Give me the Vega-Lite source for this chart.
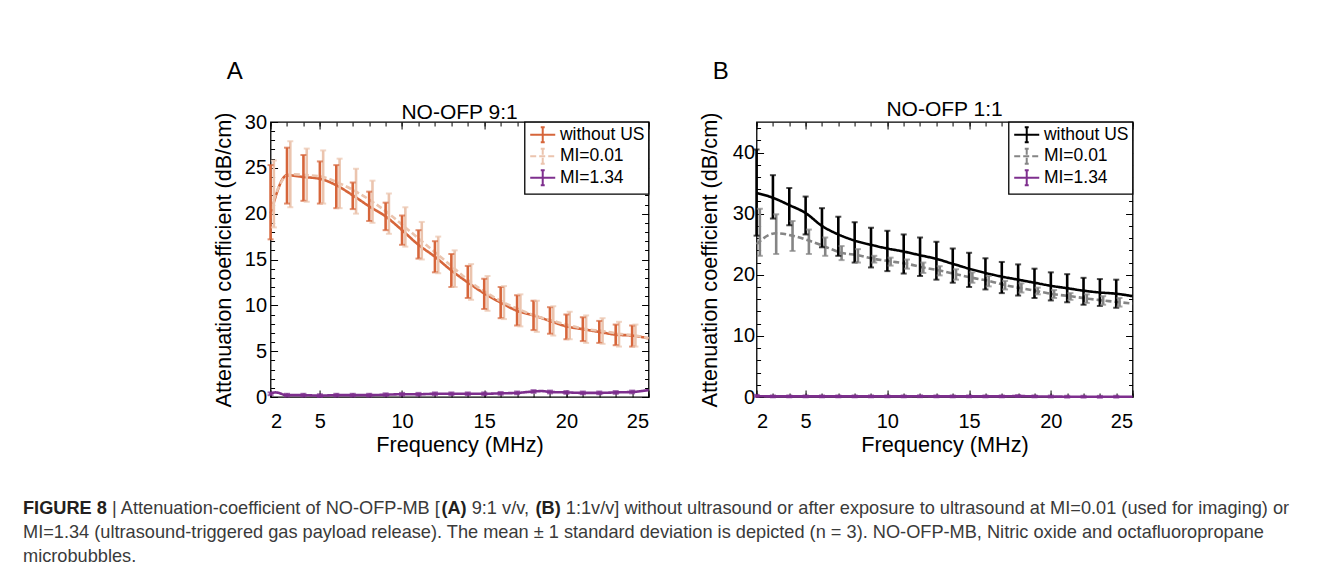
{
  "$schema": "https://vega.github.io/schema/vega-lite/v6.json",
  "background": "white",
  "padding": {"left": 23, "top": 60, "right": 0, "bottom": 0},
  "config": {
    "font": "Liberation Sans",
    "view": {"stroke": "black", "strokeWidth": 1.3},
    "axis": {"grid": false, "domain": false, "tickColor": "black", "tickWidth": 1, "labelColor": "black", "titleColor": "black", "labelFont": "Liberation Sans", "titleFont": "Liberation Sans", "titleFontWeight": "normal", "labelFontSize": 20, "titleFontSize": 21.7},
    "title": {"font": "Liberation Sans", "fontWeight": "normal", "color": "black"},
    "legend": {"orient": "top-right", "offset": 0, "strokeColor": "black", "strokeWidth": 1.3, "fillColor": "white", "padding": 4, "labelFont": "Liberation Sans", "labelFontSize": 17.5, "labelColor": "black", "symbolType": "M-1.77,0H1.77M0,-1.06V1.06M-0.28,-1.06H0.28M-0.28,1.06H0.28", "symbolSize": 200, "symbolStrokeWidth": 2, "symbolFillColor": "transparent", "symbolOffset": 5.4, "rowPadding": -2.5, "labelOffset": 8.4}
  },
  "resolve": {"scale": {"color": "independent", "strokeDash": "independent"}, "legend": {"color": "independent", "strokeDash": "independent"}},
  "datasets": {
    "a": [
      {"s": "without US", "f": 2, "m": 20.0, "lo": 17.2, "hi": 25.3},
      {"s": "without US", "f": 3, "m": 24.2, "lo": 21.1, "hi": 27.2},
      {"s": "without US", "f": 4, "m": 24.0, "lo": 21.4, "hi": 26.4},
      {"s": "without US", "f": 5, "m": 23.8, "lo": 21.1, "hi": 25.7},
      {"s": "without US", "f": 6, "m": 23.1, "lo": 20.6, "hi": 25.3},
      {"s": "without US", "f": 7, "m": 22.0, "lo": 20.5, "hi": 23.4},
      {"s": "without US", "f": 8, "m": 20.8, "lo": 19.2, "hi": 22.4},
      {"s": "without US", "f": 9, "m": 19.7, "lo": 18.2, "hi": 21.2},
      {"s": "without US", "f": 10, "m": 18.2, "lo": 16.6, "hi": 19.8},
      {"s": "without US", "f": 11, "m": 16.6, "lo": 15.1, "hi": 18.2},
      {"s": "without US", "f": 12, "m": 15.3, "lo": 13.6, "hi": 17.0},
      {"s": "without US", "f": 13, "m": 13.8, "lo": 12.0, "hi": 15.6},
      {"s": "without US", "f": 14, "m": 12.5, "lo": 10.8, "hi": 14.3},
      {"s": "without US", "f": 15, "m": 11.3, "lo": 9.6, "hi": 12.9},
      {"s": "without US", "f": 16, "m": 10.3, "lo": 8.6, "hi": 12.0},
      {"s": "without US", "f": 17, "m": 9.4, "lo": 7.8, "hi": 11.1},
      {"s": "without US", "f": 18, "m": 8.9, "lo": 7.3, "hi": 10.5},
      {"s": "without US", "f": 19, "m": 8.3, "lo": 6.9, "hi": 9.8},
      {"s": "without US", "f": 20, "m": 7.7, "lo": 6.3, "hi": 9.0},
      {"s": "without US", "f": 21, "m": 7.4, "lo": 6.1, "hi": 8.7},
      {"s": "without US", "f": 22, "m": 7.1, "lo": 5.9, "hi": 8.3},
      {"s": "without US", "f": 23, "m": 6.8, "lo": 5.65, "hi": 7.9},
      {"s": "without US", "f": 24, "m": 6.7, "lo": 5.5, "hi": 7.8},
      {"s": "without US", "f": 25, "m": 6.4, "lo": null, "hi": null},
      {"s": "MI=0.01", "f": 2, "m": 19.5, "lo": null, "hi": null},
      {"s": "MI=0.01", "f": 2.2, "m": 21.5, "lo": 18.5, "hi": 25.8},
      {"s": "MI=0.01", "f": 3.2, "m": 24.3, "lo": 20.7, "hi": 27.9},
      {"s": "MI=0.01", "f": 4.2, "m": 24.2, "lo": 21.3, "hi": 27.1},
      {"s": "MI=0.01", "f": 5.2, "m": 24.0, "lo": 21.1, "hi": 26.9},
      {"s": "MI=0.01", "f": 6.2, "m": 23.3, "lo": 20.6, "hi": 26.0},
      {"s": "MI=0.01", "f": 7.2, "m": 22.4, "lo": 20.0, "hi": 24.9},
      {"s": "MI=0.01", "f": 8.2, "m": 21.3, "lo": 19.0, "hi": 23.6},
      {"s": "MI=0.01", "f": 9.2, "m": 20.0, "lo": 17.8, "hi": 22.2},
      {"s": "MI=0.01", "f": 10.2, "m": 18.5, "lo": 16.4, "hi": 20.7},
      {"s": "MI=0.01", "f": 11.2, "m": 17.0, "lo": 15.0, "hi": 19.1},
      {"s": "MI=0.01", "f": 12.2, "m": 15.5, "lo": 13.5, "hi": 17.5},
      {"s": "MI=0.01", "f": 13.2, "m": 14.0, "lo": 12.0, "hi": 16.0},
      {"s": "MI=0.01", "f": 14.2, "m": 12.5, "lo": 10.6, "hi": 14.5},
      {"s": "MI=0.01", "f": 15.2, "m": 11.3, "lo": 9.4, "hi": 13.2},
      {"s": "MI=0.01", "f": 16.2, "m": 10.3, "lo": 8.5, "hi": 12.1},
      {"s": "MI=0.01", "f": 17.2, "m": 9.5, "lo": 7.7, "hi": 11.2},
      {"s": "MI=0.01", "f": 18.2, "m": 8.8, "lo": 7.1, "hi": 10.5},
      {"s": "MI=0.01", "f": 19.2, "m": 8.3, "lo": 6.7, "hi": 9.9},
      {"s": "MI=0.01", "f": 20.2, "m": 7.8, "lo": 6.3, "hi": 9.3},
      {"s": "MI=0.01", "f": 21.2, "m": 7.4, "lo": 5.9, "hi": 8.9},
      {"s": "MI=0.01", "f": 22.2, "m": 7.2, "lo": 5.8, "hi": 8.6},
      {"s": "MI=0.01", "f": 23.2, "m": 6.9, "lo": 5.5, "hi": 8.2},
      {"s": "MI=0.01", "f": 24.2, "m": 6.7, "lo": 5.5, "hi": 7.9},
      {"s": "MI=0.01", "f": 25, "m": 6.4, "lo": null, "hi": null},
      {"s": "MI=1.34", "f": 2, "m": 0.35, "lo": 0.2, "hi": 0.5},
      {"s": "MI=1.34", "f": 2.3, "m": 0.5, "lo": null, "hi": null},
      {"s": "MI=1.34", "f": 3, "m": 0.2, "lo": 0.05, "hi": 0.35},
      {"s": "MI=1.34", "f": 4, "m": 0.2, "lo": 0.05, "hi": 0.35},
      {"s": "MI=1.34", "f": 5, "m": 0.15, "lo": 0.0, "hi": 0.3},
      {"s": "MI=1.34", "f": 6, "m": 0.2, "lo": 0.05, "hi": 0.35},
      {"s": "MI=1.34", "f": 7, "m": 0.2, "lo": 0.05, "hi": 0.35},
      {"s": "MI=1.34", "f": 8, "m": 0.2, "lo": 0.05, "hi": 0.35},
      {"s": "MI=1.34", "f": 9, "m": 0.25, "lo": 0.1, "hi": 0.4},
      {"s": "MI=1.34", "f": 10, "m": 0.3, "lo": 0.15, "hi": 0.45},
      {"s": "MI=1.34", "f": 11, "m": 0.3, "lo": 0.15, "hi": 0.45},
      {"s": "MI=1.34", "f": 12, "m": 0.35, "lo": 0.2, "hi": 0.5},
      {"s": "MI=1.34", "f": 13, "m": 0.35, "lo": 0.2, "hi": 0.5},
      {"s": "MI=1.34", "f": 14, "m": 0.35, "lo": 0.2, "hi": 0.5},
      {"s": "MI=1.34", "f": 15, "m": 0.35, "lo": 0.2, "hi": 0.5},
      {"s": "MI=1.34", "f": 16, "m": 0.4, "lo": 0.25, "hi": 0.55},
      {"s": "MI=1.34", "f": 17, "m": 0.45, "lo": 0.3, "hi": 0.6},
      {"s": "MI=1.34", "f": 18, "m": 0.6, "lo": 0.45, "hi": 0.75},
      {"s": "MI=1.34", "f": 18.5, "m": 0.65, "lo": null, "hi": null},
      {"s": "MI=1.34", "f": 19, "m": 0.55, "lo": 0.4, "hi": 0.7},
      {"s": "MI=1.34", "f": 20, "m": 0.5, "lo": 0.35, "hi": 0.65},
      {"s": "MI=1.34", "f": 21, "m": 0.45, "lo": 0.3, "hi": 0.6},
      {"s": "MI=1.34", "f": 22, "m": 0.45, "lo": 0.3, "hi": 0.6},
      {"s": "MI=1.34", "f": 23, "m": 0.5, "lo": 0.35, "hi": 0.65},
      {"s": "MI=1.34", "f": 24, "m": 0.55, "lo": 0.4, "hi": 0.7},
      {"s": "MI=1.34", "f": 25, "m": 0.75, "lo": null, "hi": null}
    ],
    "b": [
      {"s": "without US", "f": 2, "m": 33.4, "lo": 26.4, "hi": 40.5},
      {"s": "without US", "f": 3, "m": 32.6, "lo": 29.2, "hi": 36.3},
      {"s": "without US", "f": 4, "m": 31.4, "lo": 28.1, "hi": 34.2},
      {"s": "without US", "f": 5, "m": 30.1, "lo": 26.6, "hi": 32.8},
      {"s": "without US", "f": 6, "m": 28.0, "lo": 24.5, "hi": 30.9},
      {"s": "without US", "f": 7, "m": 26.6, "lo": 23.1, "hi": 29.5},
      {"s": "without US", "f": 8, "m": 25.6, "lo": 22.0, "hi": 28.6},
      {"s": "without US", "f": 9, "m": 24.9, "lo": 21.2, "hi": 27.7},
      {"s": "without US", "f": 10, "m": 24.3, "lo": 20.6, "hi": 27.2},
      {"s": "without US", "f": 11, "m": 23.8, "lo": 20.2, "hi": 26.6},
      {"s": "without US", "f": 12, "m": 23.2, "lo": 19.8, "hi": 26.1},
      {"s": "without US", "f": 13, "m": 22.6, "lo": 19.2, "hi": 25.4},
      {"s": "without US", "f": 14, "m": 21.8, "lo": 18.7, "hi": 24.3},
      {"s": "without US", "f": 15, "m": 21.0, "lo": 18.0, "hi": 23.6},
      {"s": "without US", "f": 16, "m": 20.3, "lo": 17.6, "hi": 22.7},
      {"s": "without US", "f": 17, "m": 19.7, "lo": 17.0, "hi": 22.1},
      {"s": "without US", "f": 18, "m": 19.2, "lo": 16.6, "hi": 21.7},
      {"s": "without US", "f": 19, "m": 18.7, "lo": 16.2, "hi": 21.0},
      {"s": "without US", "f": 20, "m": 18.2, "lo": 15.8, "hi": 20.4},
      {"s": "without US", "f": 21, "m": 17.8, "lo": 15.5, "hi": 20.1},
      {"s": "without US", "f": 22, "m": 17.4, "lo": 15.1, "hi": 19.5},
      {"s": "without US", "f": 23, "m": 17.1, "lo": 14.9, "hi": 19.3},
      {"s": "without US", "f": 24, "m": 16.9, "lo": 14.6, "hi": 19.2},
      {"s": "without US", "f": 25, "m": 16.5, "lo": null, "hi": null},
      {"s": "MI=0.01", "f": 2, "m": 25.0, "lo": null, "hi": null},
      {"s": "MI=0.01", "f": 2.2, "m": 25.5, "lo": 23.1, "hi": 30.8},
      {"s": "MI=0.01", "f": 3.2, "m": 26.8, "lo": 23.4, "hi": 29.9},
      {"s": "MI=0.01", "f": 4.2, "m": 26.4, "lo": 23.9, "hi": 28.8},
      {"s": "MI=0.01", "f": 5.2, "m": 25.6, "lo": 23.4, "hi": 27.4},
      {"s": "MI=0.01", "f": 6.2, "m": 24.6, "lo": 23.1, "hi": 26.1},
      {"s": "MI=0.01", "f": 7.2, "m": 23.6, "lo": 22.4, "hi": 24.7},
      {"s": "MI=0.01", "f": 8.2, "m": 23.2, "lo": 22.0, "hi": 24.2},
      {"s": "MI=0.01", "f": 9.2, "m": 22.6, "lo": 22.0, "hi": 23.1},
      {"s": "MI=0.01", "f": 10.2, "m": 22.2, "lo": 21.5, "hi": 22.8},
      {"s": "MI=0.01", "f": 11.2, "m": 21.8, "lo": 21.0, "hi": 22.5},
      {"s": "MI=0.01", "f": 12.2, "m": 21.2, "lo": 20.3, "hi": 22.0},
      {"s": "MI=0.01", "f": 13.2, "m": 20.7, "lo": 19.9, "hi": 21.4},
      {"s": "MI=0.01", "f": 14.2, "m": 20.1, "lo": 19.2, "hi": 20.9},
      {"s": "MI=0.01", "f": 15.2, "m": 19.5, "lo": 18.7, "hi": 20.4},
      {"s": "MI=0.01", "f": 16.2, "m": 19.0, "lo": 18.1, "hi": 19.8},
      {"s": "MI=0.01", "f": 17.2, "m": 18.3, "lo": 17.6, "hi": 19.0},
      {"s": "MI=0.01", "f": 18.2, "m": 17.8, "lo": 17.1, "hi": 18.6},
      {"s": "MI=0.01", "f": 19.2, "m": 17.3, "lo": 16.8, "hi": 17.9},
      {"s": "MI=0.01", "f": 20.2, "m": 16.8, "lo": 16.2, "hi": 17.5},
      {"s": "MI=0.01", "f": 21.2, "m": 16.5, "lo": 15.9, "hi": 17.0},
      {"s": "MI=0.01", "f": 22.2, "m": 16.1, "lo": 15.4, "hi": 16.8},
      {"s": "MI=0.01", "f": 23.2, "m": 15.8, "lo": 15.1, "hi": 16.5},
      {"s": "MI=0.01", "f": 24.2, "m": 15.5, "lo": 14.8, "hi": 16.2},
      {"s": "MI=0.01", "f": 25, "m": 15.3, "lo": null, "hi": null},
      {"s": "MI=1.34", "f": 2, "m": 0.15, "lo": 0.0, "hi": 0.35},
      {"s": "MI=1.34", "f": 3, "m": 0.1, "lo": -0.05, "hi": 0.25},
      {"s": "MI=1.34", "f": 4, "m": 0.1, "lo": -0.05, "hi": 0.25},
      {"s": "MI=1.34", "f": 5, "m": 0.1, "lo": -0.05, "hi": 0.25},
      {"s": "MI=1.34", "f": 6, "m": 0.1, "lo": -0.05, "hi": 0.25},
      {"s": "MI=1.34", "f": 7, "m": 0.1, "lo": -0.05, "hi": 0.25},
      {"s": "MI=1.34", "f": 8, "m": 0.1, "lo": -0.05, "hi": 0.25},
      {"s": "MI=1.34", "f": 9, "m": 0.1, "lo": -0.05, "hi": 0.25},
      {"s": "MI=1.34", "f": 10, "m": 0.1, "lo": -0.05, "hi": 0.25},
      {"s": "MI=1.34", "f": 11, "m": 0.1, "lo": -0.05, "hi": 0.25},
      {"s": "MI=1.34", "f": 12, "m": 0.12, "lo": -0.03, "hi": 0.27},
      {"s": "MI=1.34", "f": 13, "m": 0.1, "lo": -0.05, "hi": 0.25},
      {"s": "MI=1.34", "f": 14, "m": 0.1, "lo": -0.05, "hi": 0.25},
      {"s": "MI=1.34", "f": 15, "m": 0.1, "lo": -0.05, "hi": 0.25},
      {"s": "MI=1.34", "f": 16, "m": 0.1, "lo": -0.05, "hi": 0.25},
      {"s": "MI=1.34", "f": 17, "m": 0.1, "lo": -0.05, "hi": 0.25},
      {"s": "MI=1.34", "f": 18, "m": 0.15, "lo": 0.0, "hi": 0.3},
      {"s": "MI=1.34", "f": 19, "m": 0.1, "lo": -0.05, "hi": 0.25},
      {"s": "MI=1.34", "f": 20, "m": 0.08, "lo": -0.07, "hi": 0.23},
      {"s": "MI=1.34", "f": 21, "m": 0.05, "lo": -0.1, "hi": 0.2},
      {"s": "MI=1.34", "f": 22, "m": 0.05, "lo": -0.1, "hi": 0.2},
      {"s": "MI=1.34", "f": 23, "m": 0.03, "lo": -0.12, "hi": 0.18},
      {"s": "MI=1.34", "f": 24, "m": 0.05, "lo": -0.1, "hi": 0.2},
      {"s": "MI=1.34", "f": 25, "m": 0.05, "lo": null, "hi": null}
    ],
    "cap": [
      {"line": 1, "seg": "fig", "text": "FIGURE 8"},
      {"line": 1, "seg": "l1b", "text": "| Attenuation-coefficient of NO-OFP-MB ["},
      {"line": 1, "seg": "ba", "text": "(A)"},
      {"line": 1, "seg": "l1d", "text": "9:1 v/v,"},
      {"line": 1, "seg": "bb", "text": "(B)"},
      {"line": 1, "seg": "l1f", "text": "1:1v/v] without ultrasound or after exposure to ultrasound at MI=0.01 (used for imaging) or"},
      {"line": 2, "seg": "full", "text": "MI=1.34 (ultrasound-triggered gas payload release). The mean ± 1 standard deviation is depicted (n = 3). NO-OFP-MB, Nitric oxide and octafluoropropane"},
      {"line": 3, "seg": "full", "text": "microbubbles."}
    ]
  },
  "vconcat": [
    {
      "resolve": {"scale": {"color": "independent", "strokeDash": "independent"}, "legend": {"color": "independent", "strokeDash": "independent"}},
      "hconcat": [
        {
          "title": {"text": "A", "anchor": "start", "fontSize": 24, "dx": 14, "offset": 17},
          "resolve": {"scale": {"color": "independent", "strokeDash": "independent"}, "legend": {"color": "independent", "strokeDash": "independent"}},
          "vconcat": [
            {
              "width": 378,
              "height": 275,
              "data": {"name": "a"},
              "title": {"text": "NO-OFP 9:1", "fontSize": 21, "offset": -11},
              "resolve": {"axis": {"x": "independent", "y": "independent"}},
              "layer": [
                {
                  "mark": {"type": "line", "strokeWidth": 2.6, "interpolate": "monotone"},
                  "encoding": {
                    "x": {"field": "f", "type": "quantitative", "scale": {"domain": [2, 25], "nice": false, "zero": false}, "axis": {"orient": "bottom", "values": [2, 5, 10, 15, 20, 25], "tickSize": -7, "labelPadding": 21, "title": "Frequency (MHz)", "titlePadding": 3}},
                    "y": {"field": "m", "type": "quantitative", "scale": {"domain": [0, 30], "nice": false}, "axis": {"orient": "left", "values": [0, 5, 10, 15, 20, 25, 30], "tickSize": -7, "labelPadding": 11, "title": "Attenuation coefficient (dB/cm)", "titlePadding": 9}},
                    "color": {"field": "s", "type": "nominal", "scale": {"domain": ["without US", "MI=0.01", "MI=1.34"], "range": ["#D6653A", "#EBC4AE", "#7E2F8E"]}, "legend": {"title": null}},
                    "strokeDash": {"field": "s", "type": "nominal", "scale": {"domain": ["without US", "MI=0.01", "MI=1.34"], "range": [[1, 0], [6, 3], [1, 0]]}, "legend": {"title": null}}
                  }
                },
                {
                  "transform": [{"filter": "datum.lo != null"}],
                  "mark": {"type": "rule", "strokeWidth": 2.6},
                  "encoding": {
                    "x": {"field": "f", "type": "quantitative", "axis": {"orient": "bottom", "values": [2,3,4,5,6,7,8,9,10,11,12,13,14,15,16,17,18,19,20,21,22,23,24,25], "tickSize": -4, "labels": false, "title": null}},
                    "y": {"field": "lo", "type": "quantitative", "axis": {"orient": "left", "values": [0,1,2,3,4,5,6,7,8,9,10,11,12,13,14,15,16,17,18,19,20,21,22,23,24,25,26,27,28,29,30], "tickSize": -4, "labels": false, "title": null}},
                    "y2": {"field": "hi"},
                    "color": {"field": "s", "type": "nominal", "legend": null}
                  }
                },
                {
                  "transform": [{"filter": "datum.lo != null"}],
                  "mark": {"type": "tick", "orient": "horizontal", "size": 6, "thickness": 2},
                  "encoding": {
                    "x": {"field": "f", "type": "quantitative", "axis": {"orient": "top", "values": [2, 5, 10, 15, 20, 25], "tickSize": -7, "labels": false, "title": null}},
                    "y": {"field": "lo", "type": "quantitative", "axis": {"orient": "right", "values": [0, 5, 10, 15, 20, 25, 30], "tickSize": -7, "labels": false, "title": null}},
                    "color": {"field": "s", "type": "nominal", "legend": null}
                  }
                },
                {
                  "transform": [{"filter": "datum.lo != null"}],
                  "mark": {"type": "tick", "orient": "horizontal", "size": 6, "thickness": 2},
                  "encoding": {
                    "x": {"field": "f", "type": "quantitative", "axis": {"orient": "top", "values": [2,3,4,5,6,7,8,9,10,11,12,13,14,15,16,17,18,19,20,21,22,23,24,25], "tickSize": -4, "labels": false, "title": null}},
                    "y": {"field": "hi", "type": "quantitative", "axis": {"orient": "right", "values": [0,1,2,3,4,5,6,7,8,9,10,11,12,13,14,15,16,17,18,19,20,21,22,23,24,25,26,27,28,29,30], "tickSize": -4, "labels": false, "title": null}},
                    "color": {"field": "s", "type": "nominal", "legend": null}
                  }
                }
              ]
            }
          ]
        },
        {
          "title": {"text": "B", "anchor": "start", "fontSize": 24, "dx": 14, "offset": 14},
          "resolve": {"scale": {"color": "independent", "strokeDash": "independent"}, "legend": {"color": "independent", "strokeDash": "independent"}},
          "vconcat": [
            {
              "width": 376,
              "height": 275,
              "data": {"name": "b"},
              "title": {"text": "NO-OFP 1:1", "fontSize": 21, "offset": -8},
              "resolve": {"axis": {"x": "independent", "y": "independent"}},
              "layer": [
                {
                  "mark": {"type": "line", "strokeWidth": 2.6, "interpolate": "monotone"},
                  "encoding": {
                    "x": {"field": "f", "type": "quantitative", "scale": {"domain": [2, 25], "nice": false, "zero": false}, "axis": {"orient": "bottom", "values": [2, 5, 10, 15, 20, 25], "tickSize": -7, "labelPadding": 21, "title": "Frequency (MHz)", "titlePadding": 3}},
                    "y": {"field": "m", "type": "quantitative", "scale": {"domain": [0, 45], "nice": false}, "axis": {"orient": "left", "values": [0, 10, 20, 30, 40], "tickSize": -7, "labelPadding": 9, "title": "Attenuation coefficient (dB/cm)", "titlePadding": 11}},
                    "color": {"field": "s", "type": "nominal", "scale": {"domain": ["without US", "MI=0.01", "MI=1.34"], "range": ["#000000", "#858585", "#7E2F8E"]}, "legend": {"title": null}},
                    "strokeDash": {"field": "s", "type": "nominal", "scale": {"domain": ["without US", "MI=0.01", "MI=1.34"], "range": [[1, 0], [6, 3], [1, 0]]}, "legend": {"title": null}}
                  }
                },
                {
                  "transform": [{"filter": "datum.lo != null"}],
                  "mark": {"type": "rule", "strokeWidth": 2.6},
                  "encoding": {
                    "x": {"field": "f", "type": "quantitative", "axis": {"orient": "bottom", "values": [2,3,4,5,6,7,8,9,10,11,12,13,14,15,16,17,18,19,20,21,22,23,24,25], "tickSize": -4, "labels": false, "title": null}},
                    "y": {"field": "lo", "type": "quantitative", "axis": {"orient": "left", "values": [0,2,4,6,8,10,12,14,16,18,20,22,24,26,28,30,32,34,36,38,40,42,44], "tickSize": -4, "labels": false, "title": null}},
                    "y2": {"field": "hi"},
                    "color": {"field": "s", "type": "nominal", "legend": null}
                  }
                },
                {
                  "transform": [{"filter": "datum.lo != null"}],
                  "mark": {"type": "tick", "orient": "horizontal", "size": 6, "thickness": 2},
                  "encoding": {
                    "x": {"field": "f", "type": "quantitative", "axis": {"orient": "top", "values": [2, 5, 10, 15, 20, 25], "tickSize": -7, "labels": false, "title": null}},
                    "y": {"field": "lo", "type": "quantitative", "axis": {"orient": "right", "values": [0, 10, 20, 30, 40], "tickSize": -7, "labels": false, "title": null}},
                    "color": {"field": "s", "type": "nominal", "legend": null}
                  }
                },
                {
                  "transform": [{"filter": "datum.lo != null"}],
                  "mark": {"type": "tick", "orient": "horizontal", "size": 6, "thickness": 2},
                  "encoding": {
                    "x": {"field": "f", "type": "quantitative", "axis": {"orient": "top", "values": [2,3,4,5,6,7,8,9,10,11,12,13,14,15,16,17,18,19,20,21,22,23,24,25], "tickSize": -4, "labels": false, "title": null}},
                    "y": {"field": "hi", "type": "quantitative", "axis": {"orient": "right", "values": [0,2,4,6,8,10,12,14,16,18,20,22,24,26,28,30,32,34,36,38,40,42,44], "tickSize": -4, "labels": false, "title": null}},
                    "color": {"field": "s", "type": "nominal", "legend": null}
                  }
                }
              ]
            }
          ]
        }
      ],
      "spacing": 44
    },
    {
      "width": 1363,
      "height": {"step": 24},
      "data": {"name": "cap"},
      "view": {"stroke": null},
      "encoding": {
        "y": {"field": "line", "type": "ordinal", "axis": null},
        "x": {"value": 0}
      },
      "layer": [
        {"transform": [{"filter": "datum.seg == 'fig'"}], "mark": {"type": "text", "align": "left", "baseline": "alphabetic", "fontSize": 18.2, "fontWeight": "bold", "color": "#231F20"}, "encoding": {"text": {"field": "text"}}},
        {"transform": [{"filter": "datum.seg == 'l1b'"}], "mark": {"type": "text", "align": "left", "baseline": "alphabetic", "fontSize": 18.2, "dx": 89.0, "color": "#3A3A3A"}, "encoding": {"text": {"field": "text"}}},
        {"transform": [{"filter": "datum.seg == 'ba'"}], "mark": {"type": "text", "align": "left", "baseline": "alphabetic", "fontSize": 18.2, "fontWeight": "bold", "dx": 418.4, "color": "#231F20"}, "encoding": {"text": {"field": "text"}}},
        {"transform": [{"filter": "datum.seg == 'l1d'"}], "mark": {"type": "text", "align": "left", "baseline": "alphabetic", "fontSize": 18.2, "dx": 448.7, "color": "#3A3A3A"}, "encoding": {"text": {"field": "text"}}},
        {"transform": [{"filter": "datum.seg == 'bb'"}], "mark": {"type": "text", "align": "left", "baseline": "alphabetic", "fontSize": 18.2, "fontWeight": "bold", "dx": 512.5, "color": "#231F20"}, "encoding": {"text": {"field": "text"}}},
        {"transform": [{"filter": "datum.seg == 'l1f'"}], "mark": {"type": "text", "align": "left", "baseline": "alphabetic", "fontSize": 18.2, "dx": 542.8, "color": "#3A3A3A"}, "encoding": {"text": {"field": "text"}}},
        {"transform": [{"filter": "datum.seg == 'full'"}], "mark": {"type": "text", "align": "left", "baseline": "alphabetic", "fontSize": 18.2, "color": "#3A3A3A"}, "encoding": {"text": {"field": "text"}}}
      ]
    }
  ],
  "center": true,
  "spacing": 42
}
